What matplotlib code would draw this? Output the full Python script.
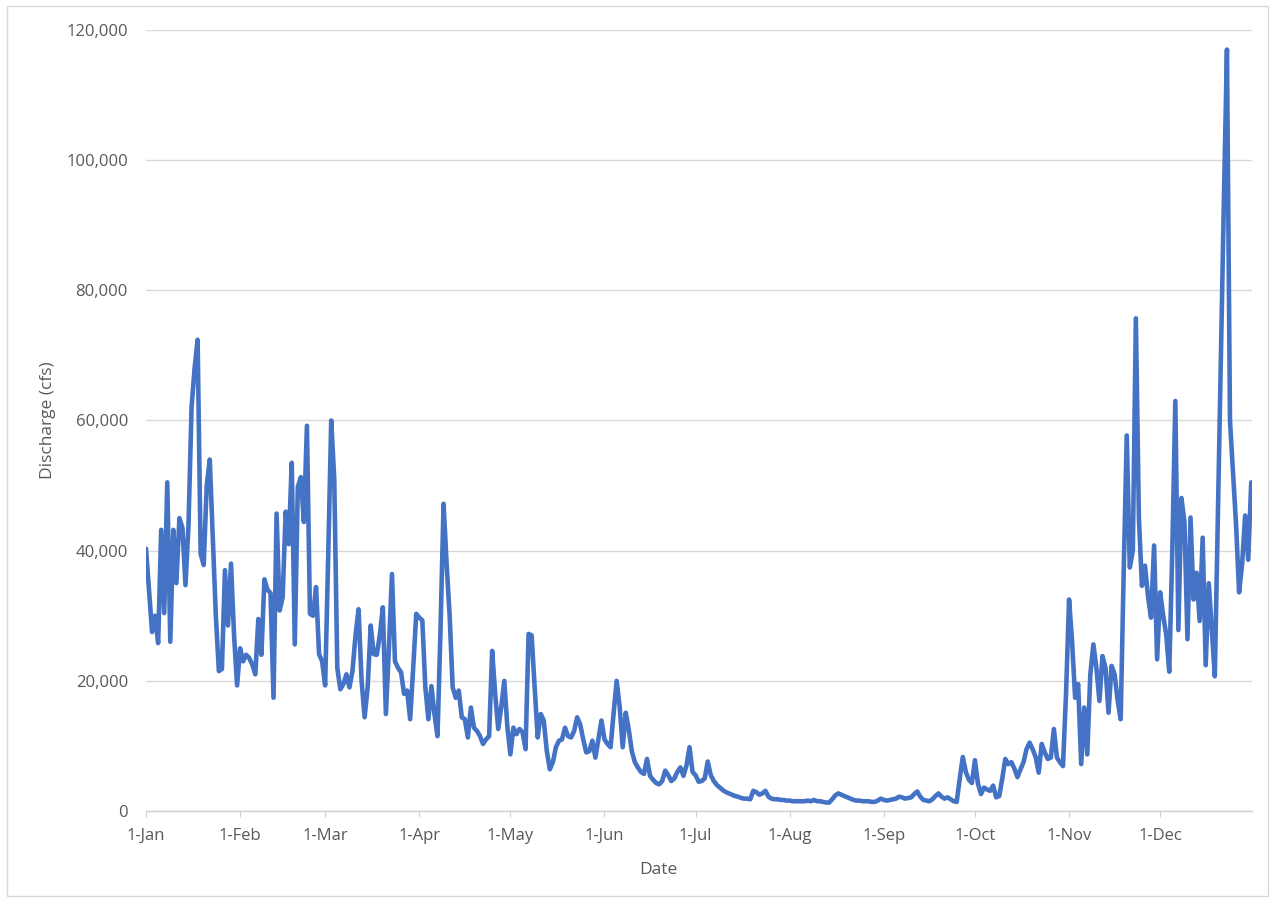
import pandas as pd
import matplotlib.pyplot as plt
import matplotlib.dates as mdates
from matplotlib.ticker import FuncFormatter, MultipleLocator
from matplotlib.patches import Rectangle

plt.rcParams['font.family'] = ['Open Sans', 'DejaVu Sans']

# daily mean discharge (cfs), one list per month
jan = [40300, 34000, 27500, 30000, 25800, 43200, 30400, 50500, 26000, 43200,
       35000, 45000, 43500, 34700, 44000, 62000, 68000, 72400, 39500, 37800,
       50000, 54000, 42000, 30000, 21500, 21800, 37000, 28500, 38000, 27000, 19300]
feb = [25000, 23000, 24000, 23500, 22500, 21000, 29500, 24000, 35600, 34000,
       33500, 17400, 45700, 30800, 32800, 46000, 41000, 53500, 25600, 49800,
       51300, 44400, 59200, 30300, 30000, 34400, 24100, 23000]
mar = [19300, 39000, 60000, 51000, 22000, 18700, 19500, 21000, 19000, 21500,
       27000, 31000, 20000, 14400, 19000, 28500, 24100, 24000, 27000, 31300,
       14900, 25000, 36400, 23000, 22000, 21300, 18000, 18500, 14100, 22000, 30300]
apr = [29700, 29300, 19000, 14100, 19200, 14900, 11500, 28000, 47200, 38000,
       30000, 19000, 17400, 18500, 14400, 14100, 11300, 15900, 12800, 12300,
       11500, 10300, 11000, 11500, 24600, 18000, 12600, 16000, 20000, 13000]
may = [8700, 12800, 11800, 12600, 12100, 9500, 27200, 27000, 19000, 11300,
       14900, 13900, 9200, 6400, 7500, 9800, 10800, 11000, 12800, 11500,
       11300, 12300, 14400, 13300, 11000, 9000, 9200, 10800, 8200, 11000, 13900]
jun = [11000, 10300, 9800, 15000, 20000, 16000, 9800, 15100, 12500, 9200,
       7500, 6700, 6000, 5700, 8000, 5400, 4800, 4300, 4100, 4600,
       6200, 5500, 4600, 5000, 6000, 6700, 5400, 7000, 9800, 6000]
jul = [5500, 4500, 4600, 5000, 7600, 5500, 4600, 4000, 3600, 3200,
       2900, 2700, 2500, 2300, 2200, 2000, 1900, 1900, 1800, 3100,
       2900, 2500, 2700, 3100, 2200, 1900, 1800, 1800, 1700, 1700, 1600]
aug = [1600, 1500, 1500, 1500, 1500, 1500, 1600, 1500, 1700, 1500,
       1500, 1400, 1300, 1300, 1800, 2400, 2700, 2500, 2300, 2100,
       1900, 1700, 1600, 1600, 1500, 1500, 1500, 1400, 1400, 1600, 1900]
sep = [1700, 1600, 1700, 1800, 1900, 2200, 2100, 1900, 2000, 2100,
       2600, 3000, 2200, 1700, 1600, 1500, 1800, 2300, 2700, 2200,
       1900, 2100, 1800, 1500, 1400, 5000, 8300, 6000, 4800, 4300]
oct_ = [7800, 4200, 2600, 3600, 3300, 3100, 3900, 2100, 2300, 5000,
        8000, 7200, 7500, 6500, 5200, 6400, 7500, 9500, 10500, 9500,
        8300, 5900, 10300, 9000, 8000, 8200, 12600, 8200, 7500, 6900, 18000]
nov = [32500, 26000, 17400, 19500, 7200, 15900, 8700, 21000, 25600, 22000,
       16900, 23800, 22000, 15100, 22300, 21000, 17000, 14100, 36900, 57700,
       37400, 40000, 75700, 45000, 34600, 37700, 33000, 29700, 40800, 23300]
dec = [33600, 30000, 27100, 21400, 40000, 63000, 27800, 48100, 44400, 26400,
       45100, 32500, 36600, 29200, 42000, 22400, 35000, 28000, 20700, 45000,
       70000, 94000, 117000, 60000, 52000, 44000, 33600, 38000, 45400, 38600, 50500]

flow = jan + feb + mar + apr + may + jun + jul + aug + sep + oct_ + nov + dec
dates = pd.date_range('2019-01-01', periods=len(flow), freq='D')
df = pd.DataFrame({'Date': dates, 'Discharge': flow})

fig = plt.figure(figsize=(12.74, 9.01), dpi=100)
ax = fig.add_axes([146 / 1274, 90 / 901, 1106 / 1274, 781 / 901])

ax.plot(df['Date'], df['Discharge'], color='#4472C4', lw=3.3,
        solid_joinstyle='round', solid_capstyle='round')

ax.set_ylim(0, 120000)
ax.set_xlim(df['Date'].iloc[0], df['Date'].iloc[-1] + pd.Timedelta(hours=6))
ax.yaxis.set_major_locator(MultipleLocator(20000))
ax.yaxis.set_major_formatter(FuncFormatter(lambda v, p: f'{int(v):,}'))
ax.xaxis.set_major_locator(mdates.MonthLocator())
ax.xaxis.set_major_formatter(mdates.DateFormatter('1-%b'))

ax.grid(axis='y', color='#d9d9d9', lw=1)
ax.set_axisbelow(True)
for s in ['top', 'right', 'left']:
    ax.spines[s].set_visible(False)
ax.spines['bottom'].set_color('#d0d0d0')
ax.spines['bottom'].set_linewidth(1)

ax.tick_params(axis='y', length=0, pad=13, labelsize=12, labelcolor='#595959')
ax.tick_params(axis='x', length=4, color='#d0d0d0', pad=8, labelsize=12,
               labelcolor='#595959')

ax.set_xlabel('Date', fontsize=12.5, color='#595959')
ax.set_ylabel('Discharge (cfs)', fontsize=12.5, color='#595959')
ax.xaxis.set_label_coords((658 - 146) / 1106, (811 - 862) / 781)
ax.yaxis.set_label_coords((56 - 146) / 1106, 0.5)

# chart border
fig.patches.append(Rectangle((7 / 1274, 5 / 901), 1261 / 1274, 890 / 901,
                             transform=fig.transFigure, fill=False,
                             edgecolor='#d9d9d9', lw=1))

fig.savefig('out.png', dpi=100, facecolor='white')
